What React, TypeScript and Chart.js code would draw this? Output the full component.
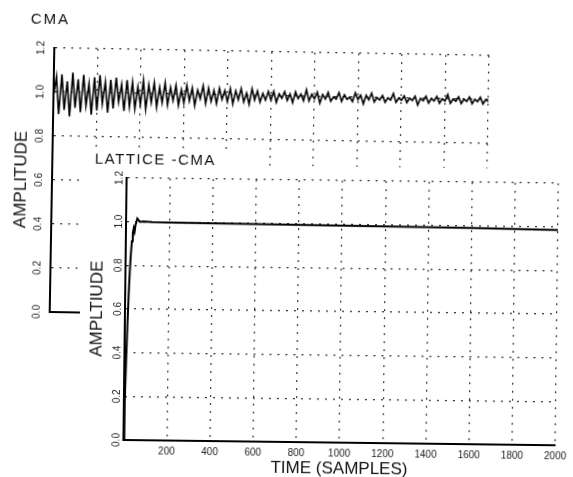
import React, { useEffect, useRef } from 'react';
import { Chart, registerables } from 'chart.js';

Chart.register(...registerables);

// ---------------- data ----------------
const X_TICK_VALUES = [0, 200, 400, 600, 800, 1000, 1200, 1400, 1600, 1800, 2000];
const X_TICK_LABELS = ['', '200', '400', '600', '800', '1000', '1200', '1400', '1600', '1800', '2000'];
const Y_TICK_LABELS = ['0.0', '0.2', '0.4', '0.6', '0.8', '1.0', '1.2'];

const TOP_TITLE = 'CMA';
const BOTTOM_TITLE = 'LATTICE -CMA';
const TOP_Y_TITLE = 'AMPLITUDE';
const BOTTOM_Y_TITLE = 'AMPLTIUDE';
const X_TITLE = 'TIME (SAMPLES)';

// CMA output amplitude, one reading every CMA_SAMPLE_STEP samples (0 … 2000)
const CMA_SAMPLE_STEP = 12.5;
const cmaAmplitude = [
  0.98, 1.07, 0.90, 1.08, 0.92, 1.05, 0.89, 1.09, 0.93, 1.06,
  0.91, 1.08, 0.94, 1.04, 0.90, 1.07, 0.92, 1.08, 0.95, 1.05,
  0.91, 1.06, 0.93, 1.07, 0.96, 1.04, 0.92, 1.06, 0.94, 1.05,
  0.93, 1.03, 0.95, 1.06, 0.93, 1.04, 0.96, 1.05, 0.94, 1.03,
  0.96, 1.05, 0.95, 1.03, 0.97, 1.04, 0.95, 1.02, 0.96, 1.04,
  0.97, 1.03, 0.95, 1.02, 0.98, 1.04, 0.96, 1.03, 0.97, 1.02,
  0.96, 1.03, 0.98, 1.02, 0.97, 1.03, 0.96, 1.02, 0.98, 1.03,
  0.97, 1.01, 0.96, 1.03, 0.98, 1.02, 0.97, 1.01, 0.98, 1.02,
  0.98, 1.02, 0.97, 1.01, 0.99, 1.02, 0.98, 1.01, 0.97, 1.02,
  0.99, 1.01, 0.98, 1.03, 0.98, 1.01, 0.99, 1.02, 0.97, 1.01,
  0.99, 1.02, 0.98, 1.00, 0.99, 1.02, 0.98, 1.01, 0.99, 1.00,
  0.98, 1.02, 0.99, 1.01, 0.97, 1.01, 0.99, 1.02, 0.98, 1.00,
  0.99, 1.01, 0.98, 1.00, 0.99, 1.02, 0.98, 1.00, 0.99, 1.01,
  0.98, 1.00, 0.99, 1.01, 0.97, 1.00, 0.99, 1.01, 0.98, 1.00,
  0.99, 1.01, 0.98, 1.00, 0.99, 1.02, 0.98, 1.00, 0.99, 1.01,
  0.98, 1.00, 0.99, 1.01, 0.98, 1.00, 0.99, 1.01, 0.98, 1.00, 0.99,
];

// LATTICE-CMA output amplitude
const latticeSamples = [0, 4, 8, 12, 16, 20, 24, 28, 32, 36, 40, 44, 48, 52, 56, 64, 80, 120,
  200, 400, 600, 800, 1000, 1200, 1400, 1600, 1800, 2000];
const latticeAmplitude = [0.0, 0.18, 0.36, 0.52, 0.66, 0.77, 0.85, 0.91, 0.95, 0.97,
  0.955, 0.985, 1.0, 1.015, 1.01, 1.0, 1.002, 1.0,
  0.998, 0.997, 0.996, 0.995, 0.994, 0.993, 0.992, 0.99, 0.988, 0.986];

// ---------------- styling ----------------
const FONT = "'Liberation Sans', Arial, sans-serif";
const INK = '#111';
const GRID = '#333';

const cornerTitle = {
  id: 'cornerTitle',
  afterDraw(chart: any, _a: any, opts: any) {
    const ctx = chart.ctx;
    ctx.save();
    ctx.font = opts.font;
    ctx.fillStyle = INK;
    if ('letterSpacing' in ctx) (ctx as any).letterSpacing = opts.spacing;
    ctx.textBaseline = 'alphabetic';
    ctx.textAlign = 'left';
    ctx.fillText(opts.text, opts.x, opts.y);
    ctx.restore();
  },
};

const paperBackground = {
  id: 'paperBackground',
  beforeDraw(chart: any) {
    const { ctx, width, height } = chart;
    ctx.save();
    ctx.fillStyle = '#fff';
    ctx.fillRect(0, 0, 160, height);
    ctx.fillRect(160, 14, width - 160, height - 14);
    ctx.restore();
  },
};

function gridOpts() {
  return { color: GRID, lineWidth: 1.2, drawTicks: false };
}
function borderOpts() {
  return { display: true, color: '#000', width: 2, dash: [2, 6] };
}

function yScale(axisWidth: number, title: string, titlePad: number, tickPad: number) {
  return {
    type: 'linear',
    min: 0,
    max: 1.2,
    afterFit: (s: any) => { s.width = axisWidth; },
    ticks: {
      stepSize: 0.2,
      autoSkip: false,
      minRotation: 90,
      maxRotation: 90,
      crossAlign: 'center',
      padding: tickPad,
      color: '#222',
      font: { family: FONT, size: 10 },
      callback: (_v: any, i: number) => Y_TICK_LABELS[i] ?? '',
    },
    grid: gridOpts(),
    border: borderOpts(),
    title: {
      display: true,
      text: title,
      color: INK,
      font: { family: FONT, size: 17 },
      padding: { top: titlePad, bottom: 0 },
    },
  };
}

export default function App() {
  const topRef = useRef<HTMLCanvasElement | null>(null);
  const lowRef = useRef<HTMLCanvasElement | null>(null);

  useEffect(() => {
    const top = new Chart(topRef.current as HTMLCanvasElement, {
      type: 'line',
      data: {
        datasets: [{
          label: TOP_TITLE,
          data: cmaAmplitude.map((v, i) => ({ x: i * CMA_SAMPLE_STEP, y: v })),
          borderColor: '#000',
          borderWidth: 1.6,
          pointRadius: 0,
          tension: 0,
        }],
      },
      options: {
        responsive: false,
        animation: false,
        layout: { padding: { left: 0, top: 48, right: 86, bottom: 0 } },
        plugins: {
          legend: { display: false },
          tooltip: { enabled: false },
          cornerTitle: { text: TOP_TITLE, x: 28, y: 24, font: `15px ${FONT}`, spacing: '2px' },
        } as any,
        scales: {
          x: {
            type: 'linear',
            min: 0,
            max: 2000,
            afterFit: (s: any) => { s.height = 18; },
            afterBuildTicks: (s: any) => { s.ticks = X_TICK_VALUES.map((value) => ({ value })); },
            ticks: { display: false },
            grid: gridOpts(),
            border: borderOpts(),
          },
          y: yScale(52, TOP_Y_TITLE, 11, 6),
        } as any,
      },
      plugins: [cornerTitle],
    });

    const low = new Chart(lowRef.current as HTMLCanvasElement, {
      type: 'line',
      data: {
        datasets: [{
          label: BOTTOM_TITLE,
          data: latticeSamples.map((s, i) => ({ x: s, y: latticeAmplitude[i] })),
          borderColor: '#000',
          borderWidth: 2,
          pointRadius: 0,
          tension: 0,
        }],
      },
      options: {
        responsive: false,
        animation: false,
        layout: { padding: { left: 0, top: 28, right: 11, bottom: 0 } },
        plugins: {
          legend: { display: false },
          tooltip: { enabled: false },
          cornerTitle: { text: BOTTOM_TITLE, x: 13, y: 14, font: `15px ${FONT}`, spacing: '1.5px' },
        } as any,
        scales: {
          x: {
            type: 'linear',
            min: 0,
            max: 2000,
            afterFit: (s: any) => { s.height = 37; },
            afterBuildTicks: (s: any) => { s.ticks = X_TICK_VALUES.map((value) => ({ value })); },
            ticks: {
              autoSkip: false,
              maxRotation: 0,
              minRotation: 0,
              padding: 5,
              color: '#222',
              font: { family: FONT, size: 10 },
              callback: (_v: any, i: number) => X_TICK_LABELS[i] ?? '',
            },
            grid: gridOpts(),
            border: borderOpts(),
            title: {
              display: true,
              text: X_TITLE,
              color: INK,
              font: { family: FONT, size: 17 },
              padding: { top: 0, bottom: 0 },
            },
          },
          y: yScale(45, BOTTOM_Y_TITLE, 7, 0),
        } as any,
      },
      plugins: [paperBackground, cornerTitle],
    });

    return () => {
      top.destroy();
      low.destroy();
    };
  }, []);

  return (
    <div style={{ position: 'absolute', left: 0, top: 0, width: 573, height: 477, overflow: 'hidden', background: '#fff' }}>
      <canvas
        ref={topRef}
        width={573}
        height={330}
        style={{ position: 'absolute', left: 0, top: 0, transform: 'rotate(1deg)', transformOrigin: '52px 180px' }}
      />
      <canvas
        ref={lowRef}
        width={493}
        height={327}
        style={{ position: 'absolute', left: 80, top: 150, transform: 'rotate(0.7deg)', transformOrigin: '45px 159px' }}
      />
    </div>
  );
}
